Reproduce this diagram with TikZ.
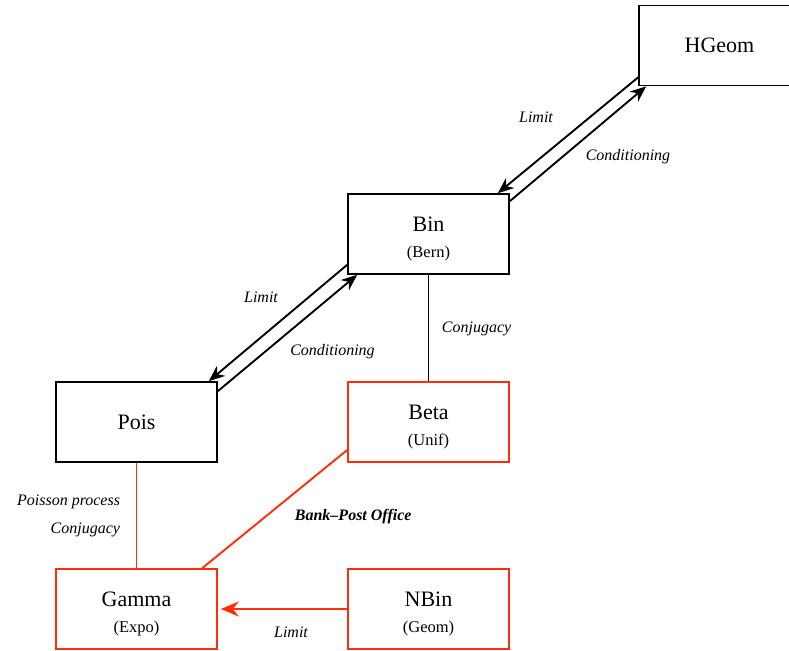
\documentclass[tikz,border=0pt]{standalone}
\usepackage{fontspec}
\setmainfont{Liberation Serif}
\usetikzlibrary{arrows.meta}
\definecolor{redline}{RGB}{255,45,10}
\tikzset{
  distbox/.style={draw, rectangle, line width=1.6pt, minimum width=161pt, minimum height=80pt, inner sep=0pt, align=center, font=\fontsize{22}{26}\selectfont},
  redbox/.style={distbox, draw=redline},
  conn/.style={line width=1.9pt},
  redconn/.style={conn, draw=redline},
  arr/.style={conn, -{Stealth[length=16pt, width=13pt, inset=5pt]}},
  redarr/.style={redconn, -{Stealth[length=18pt, width=15pt, inset=6pt, color=redline]}},
  elabel/.style={font=\fontsize{16}{28}\selectfont\itshape, inner sep=0pt, text=black}
}
\newcommand{\twoline}[2]{\rule{0pt}{25pt}#1\\[0pt]{\fontsize{16.5}{18}\selectfont #2}}
\begin{document}
\begin{tikzpicture}[x=1pt, y=-1pt]
\useasboundingbox (0,0) rectangle (789,650);
\clip (0,0) rectangle (789,650);

\node[distbox] (hgeom) at (719.5,45.5) {HGeom};
\node[distbox] (bin) at (428.5,234) {\twoline{Bin}{(Bern)}};
\node[distbox] (pois) at (136.5,422) {Pois};
\node[redbox] (beta) at (428.5,422) {\twoline{Beta}{(Unif)}};
\node[redbox] (gamma) at (136.5,609) {\twoline{Gamma}{(Expo)}};
\node[redbox] (nbin) at (428.5,609) {\twoline{NBin}{(Geom)}};

% HGeom <-> Bin
\draw[arr] ([yshift=9pt]hgeom.south west) -- ([xshift=-12pt]bin.north east)
  node[elabel, midway, xshift=-32pt, yshift=18pt] {Limit};
\draw[arr] ([yshift=-8pt]bin.north east) -- ([xshift=8pt]hgeom.south west)
  node[elabel, midway, xshift=50pt, yshift=-13pt] {Conditioning};

% Bin <-> Pois
\draw[arr] ([yshift=10pt]bin.south west) -- ([xshift=-9pt]pois.north east)
  node[elabel, midway, xshift=-17pt, yshift=26pt] {Limit};
\draw[arr] ([yshift=-10pt]pois.north east) -- ([xshift=10pt]bin.south west)
  node[elabel, midway, xshift=45pt, yshift=-19pt] {Conditioning};

% Bin - Beta
\draw[conn] (bin.south) -- (beta.north)
  node[elabel, midway, anchor=west, xshift=12.5pt, yshift=-1pt] {Conjugacy};

% Pois - Gamma
\draw[redconn] (pois.south) -- (gamma.north)
  node[elabel, midway, anchor=east, xshift=-15.5pt, align=right] {Poisson process\\Conjugacy};

% Beta - Gamma
\draw[redconn] ([yshift=-28pt]beta.west) -- ([xshift=147pt]gamma.north west)
  node[elabel, midway, xshift=78.5pt, yshift=-7.5pt, font=\fontsize{16}{18}\selectfont\bfseries\itshape] {Bank–Post Office};

% NBin -> Gamma
\draw[redarr] (nbin.west) -- ([xshift=3pt]gamma.east)
  node[elabel, midway, xshift=7pt, yshift=-23pt] {Limit};
\end{tikzpicture}
\end{document}
